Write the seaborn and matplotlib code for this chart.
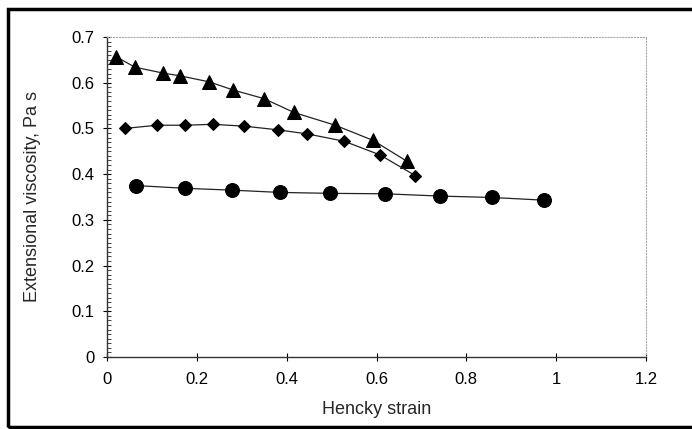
import matplotlib
matplotlib.use('Agg')

import matplotlib.pyplot as plt
import seaborn as sns
import pandas as pd
from matplotlib.ticker import MultipleLocator
from matplotlib.patches import Rectangle

# Data
tri_x = [0.020, 0.062, 0.125, 0.163, 0.227, 0.281, 0.350, 0.416, 0.508, 0.592, 0.668]
tri_y = [0.657, 0.634, 0.621, 0.615, 0.602, 0.584, 0.565, 0.535, 0.507, 0.474, 0.428]
dia_x = [0.040, 0.111, 0.174, 0.235, 0.305, 0.380, 0.446, 0.528, 0.608, 0.686]
dia_y = [0.500, 0.507, 0.507, 0.509, 0.505, 0.497, 0.488, 0.472, 0.442, 0.397]
cir_x = [0.065, 0.174, 0.278, 0.385, 0.497, 0.619, 0.742, 0.857, 0.973]
cir_y = [0.375, 0.369, 0.365, 0.360, 0.358, 0.357, 0.352, 0.349, 0.343]

sns.set_style('white')
plt.rcParams['font.family'] = ['Liberation Sans', 'DejaVu Sans']

fig = plt.figure(figsize=(6.92, 4.29), dpi=100)
ax = fig.add_axes([107/692, 1 - 357/429, 539/692, 320/429])

series = [(tri_x, tri_y, '^', 10), (dia_x, dia_y, 'D', 6.5), (cir_x, cir_y, 'o', 10)]
for xs, ys, mk, ms in series:
    df = pd.DataFrame({'x': xs, 'y': ys})
    sns.lineplot(data=df, x='x', y='y', ax=ax, color='#222222', linewidth=0.9,
                 marker=mk, markersize=ms, markerfacecolor='black',
                 markeredgecolor='black', sort=False)

ax.set_xlim(0, 1.2)
ax.set_ylim(0, 0.7)
ax.yaxis.set_minor_locator(MultipleLocator(0.01))
ax.set_xticks([0, 0.2, 0.4, 0.6, 0.8, 1.0, 1.2])
ax.set_xticklabels(['0', '0.2', '0.4', '0.6', '0.8', '1', '1.2'])
ax.set_yticks([0, 0.1, 0.2, 0.3, 0.4, 0.5, 0.6, 0.7])
ax.set_yticklabels(['0', '0.1', '0.2', '0.3', '0.4', '0.5', '0.6', '0.7'])
ax.tick_params(axis='both', which='major', direction='inout', length=6, width=0.8,
               labelsize=12, colors='black', left=True, bottom=True)
ax.tick_params(axis='x', which='major', pad=8)
ax.tick_params(axis='y', which='major', pad=6)
ax.tick_params(axis='y', which='minor', direction='in', length=3, width=0.6, left=True)

for side in ['left', 'bottom']:
    ax.spines[side].set_color('#333333')
    ax.spines[side].set_linewidth(1.0)
for side in ['top', 'right']:
    ax.spines[side].set_color('#aaaaaa')
    ax.spines[side].set_linestyle(':')
    ax.spines[side].set_linewidth(0.8)

ax.set_xlabel('Hencky strain', fontsize=13, labelpad=10)
ax.set_ylabel('Extensional viscosity, Pa s', fontsize=13, labelpad=22)

# outer frame of the figure
fig.patches.append(Rectangle((8/692, 2/429), 700/692, 418/429, transform=fig.transFigure,
                             fill=False, edgecolor='black', linewidth=2.5))

plt.savefig('out.png', dpi=100)
